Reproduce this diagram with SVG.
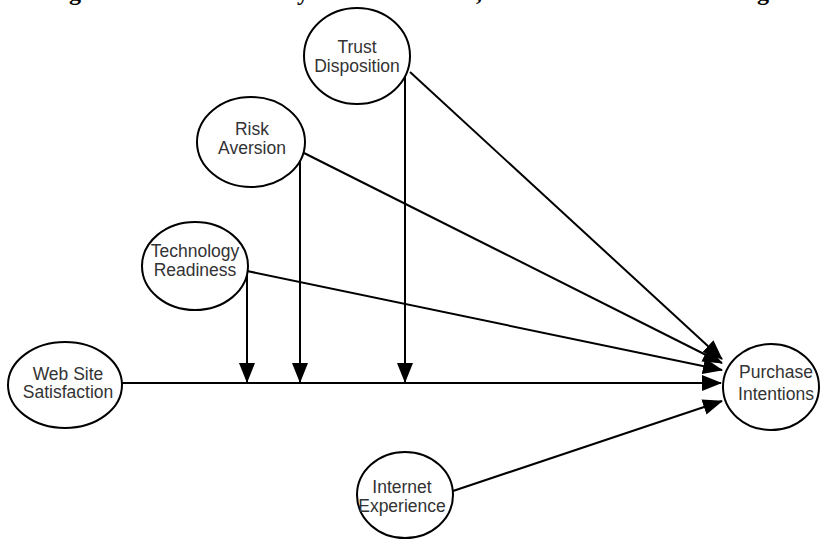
<svg xmlns="http://www.w3.org/2000/svg" width="823" height="542" viewBox="0 0 823 542">
<style>
.node ellipse{fill:#fff;stroke:#000;stroke-width:2}
.node text{font-family:"Liberation Sans",Arial,sans-serif;font-size:17.5px;fill:#333;text-anchor:middle}
.title{font-family:"Liberation Serif","Times New Roman",serif;font-size:24px;font-weight:bold;fill:#000}
#connectors line{stroke:#000;stroke-width:2;fill:none}
</style>
<defs>
<marker id="arr" markerUnits="userSpaceOnUse" markerWidth="20" markerHeight="16" viewBox="0 0 20 16" refX="19" refY="8" orient="auto">
<path d="M0,0 L20,8 L0,16 Z" fill="#000"/>
</marker>
</defs>
<g id="title-fragment">
<text class="title" x="69" y="0">g</text>
<text class="title" x="297" y="0">y</text>
<text class="title" x="476" y="0">,</text>
<text class="title" x="757" y="0">g</text>
</g>
<g id="connectors">
<line x1="122" y1="383" x2="721" y2="383" marker-end="url(#arr)"/>
<line x1="247" y1="272" x2="247" y2="382" marker-end="url(#arr)"/>
<line x1="300" y1="160" x2="300" y2="382" marker-end="url(#arr)"/>
<line x1="405" y1="76" x2="405" y2="382" marker-end="url(#arr)"/>
<line x1="410" y1="72" x2="722" y2="359" marker-end="url(#arr)"/>
<line x1="304" y1="153" x2="722" y2="363" marker-end="url(#arr)"/>
<line x1="247" y1="271" x2="722" y2="370" marker-end="url(#arr)"/>
<line x1="453" y1="491" x2="722" y2="401" marker-end="url(#arr)"/>
</g>
<g id="trust" class="node">
<ellipse cx="357" cy="56" rx="53" ry="48"/>
<text x="357" y="53">Trust</text>
<text x="357" y="72">Disposition</text>
</g>
<g id="risk" class="node">
<ellipse cx="251" cy="142" rx="54" ry="45"/>
<text x="252" y="135">Risk</text>
<text x="252" y="154">Aversion</text>
</g>
<g id="tech" class="node">
<ellipse cx="195" cy="266" rx="53" ry="44"/>
<text x="195" y="257">Technology</text>
<text x="195" y="276">Readiness</text>
</g>
<g id="website" class="node">
<ellipse cx="65" cy="385" rx="57" ry="43"/>
<text x="68" y="380">Web Site</text>
<text x="68" y="398">Satisfaction</text>
</g>
<g id="purchase" class="node">
<ellipse cx="771" cy="387" rx="48" ry="43"/>
<text x="776" y="378">Purchase</text>
<text x="776" y="400">Intentions</text>
</g>
<g id="internet" class="node">
<ellipse cx="405" cy="495" rx="48" ry="43"/>
<text x="402" y="493">Internet</text>
<text x="402" y="512">Experience</text>
</g>
</svg>
